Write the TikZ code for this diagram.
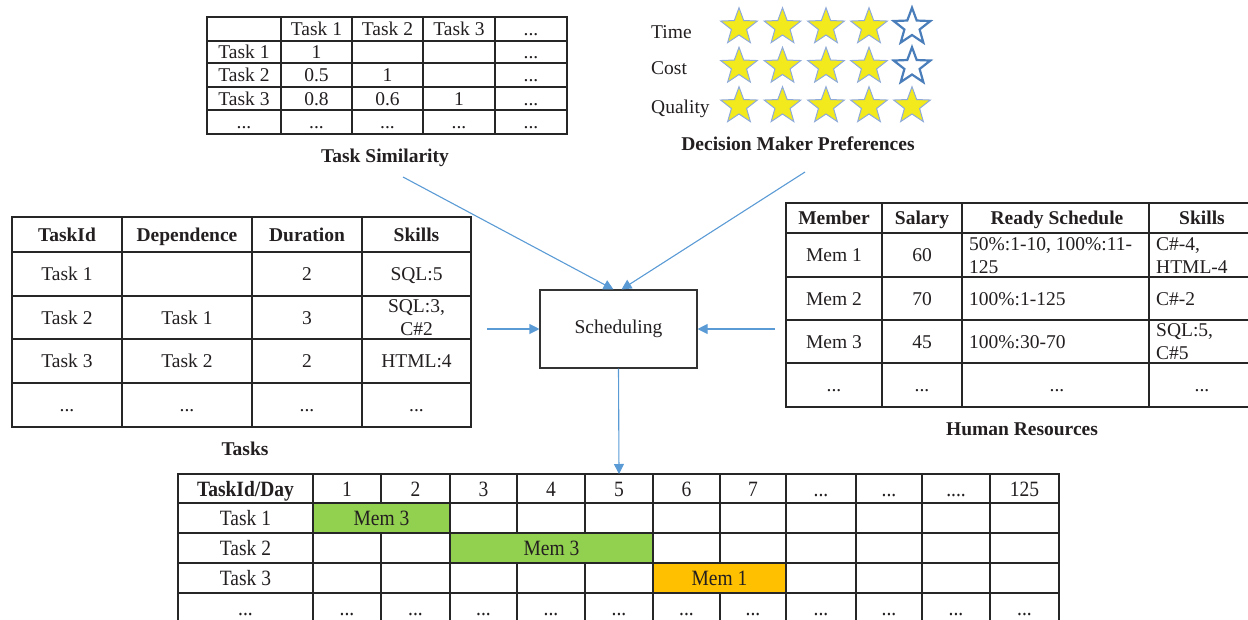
\documentclass[tikz,border=0pt]{standalone}
\usepackage{graphicx}
\usepackage{fontspec}
\setmainfont{Liberation Serif}
\usetikzlibrary{arrows.meta}
\definecolor{txt}{HTML}{231F20}
\definecolor{arr}{HTML}{5B9BD5}
\definecolor{grn}{HTML}{92D050}
\definecolor{org}{HTML}{FFC000}
\definecolor{staryel}{HTML}{F2EA1C}
\definecolor{staredge}{HTML}{8EAADB}
\definecolor{starblue}{HTML}{4A7EBB}
\newcommand\tl[1]{\scalebox{1}[1.12]{#1}}
\begin{document}
\begin{tikzpicture}[x=1pt,y=-1pt,
  font=\fontsize{19.5}{22}\selectfont, text=txt,
  grid/.style={draw=black!85, line width=1.1pt, line cap=rect},
  cell/.style={anchor=base, inner sep=0pt},
  mcell/.style={anchor=center, inner sep=0pt, font=\fontsize{19.5}{23}\selectfont},
  hcell/.style={anchor=base, inner sep=0pt, font=\fontsize{19.5}{22}\selectfont\bfseries},
  bcap/.style={anchor=base, inner sep=0pt, font=\fontsize{19.5}{22}\selectfont\bfseries},
  flow/.style={draw=arr, line width=1.1pt, -{Triangle[length=10pt,width=10pt]}},
  mystar/.pic={\path[pic actions, line join=miter] (270:19.3) -- (306:8) -- (342:19.3) -- (18:8) -- (54:19.3) -- (90:8) -- (126:19.3) -- (162:8) -- (198:19.3) -- (234:8) -- cycle;},
  starfull/.style={fill=staryel, draw=staredge, line width=1pt},
  starempty/.style={fill=white, draw=starblue, line width=2.2pt},
  schedbox/.style={draw=black!80, line width=1.1pt, minimum width=157pt, minimum height=78pt, inner sep=0pt}
]
\useasboundingbox (0,0) rectangle (1248,619);
\clip (0,0) rectangle (1248,619);

% ---------------- Task Similarity table ----------------
\foreach \y in {17,41,63,87,110,134} \draw[grid] (207,\y) -- (567,\y);
\foreach \x in {207,281,352,423,495,567} \draw[grid] (\x,17) -- (\x,134);
\node[cell] (sh1) at (316.5,35.5) {Task 1};
\node[cell] (sh2) at (387.5,35.5) {Task 2};
\node[cell] (sh3) at (459,35.5) {Task 3};
\node[cell] (sh4) at (531,35.5) {...};
\node[cell] (sr1) at (244,58.5) {Task 1};
\node[cell] (s11) at (316.5,58.5) {1};
\node[cell] (s14) at (531,58.5) {...};
\node[cell] (sr2) at (244,81.5) {Task 2};
\node[cell] (s21) at (316.5,81.5) {0.5};
\node[cell] (s22) at (387.5,81.5) {1};
\node[cell] (s24) at (531,81.5) {...};
\node[cell] (sr3) at (244,105) {Task 3};
\node[cell] (s31) at (316.5,105) {0.8};
\node[cell] (s32) at (387.5,105) {0.6};
\node[cell] (s33) at (459,105) {1};
\node[cell] (s34) at (531,105) {...};
\node[cell] (sr4) at (244,128.5) {...};
\node[cell] (s41) at (316.5,128.5) {...};
\node[cell] (s42) at (387.5,128.5) {...};
\node[cell] (s43) at (459,128.5) {...};
\node[cell] (s44) at (531,128.5) {...};
\node[bcap] (simcap) at (385,162) {Task Similarity};

% ---------------- Decision maker preferences ----------------
\node[cell, anchor=base west] (ltime) at (651,38) {Time};
\node[cell, anchor=base west] (lcost) at (651,74) {Cost};
\node[cell, anchor=base west] (lqual) at (651,113) {Quality};
\foreach \r/\yy/\n in {t/27/4, c/66.5/4, q/106/5}{
  \foreach \xx [count=\k] in {739,782.5,826,869,912}{
    \ifnum\k>\n\relax
      \pic[starempty] (\r\k) at (\xx,\yy) {mystar};
    \else
      \pic[starfull] (\r\k) at (\xx,\yy) {mystar};
    \fi
  }
}
\node[bcap] (dmpcap) at (798,150) {Decision Maker Preferences};

% ---------------- Tasks table ----------------
\foreach \y in {217,252,296,339,383,427} \draw[grid] (12,\y) -- (471,\y);
\foreach \x in {12,122,252,362,471} \draw[grid] (\x,217) -- (\x,427);
\node[hcell] (th1) at (67,241) {TaskId};
\node[hcell] (th2) at (187,241) {Dependence};
\node[hcell] (th3) at (307,241) {Duration};
\node[hcell] (th4) at (416.5,241) {Skills};
\node[cell] (t1a) at (67,280.5) {Task 1};
\node[cell] (t1c) at (307,280.5) {2};
\node[cell] (t1d) at (416.5,280.5) {SQL:5};
\node[cell] (t2a) at (67,324) {Task 2};
\node[cell] (t2b) at (187,324) {Task 1};
\node[cell] (t2c) at (307,324) {3};
\node[mcell, align=center] (t2d) at (416.5,317.5) {SQL:3,\\C\#2};
\node[cell] (t3a) at (67,367.5) {Task 3};
\node[cell] (t3b) at (187,367.5) {Task 2};
\node[cell] (t3c) at (307,367.5) {2};
\node[cell] (t3d) at (416.5,367.5) {HTML:4};
\node[cell] (t4a) at (67,411.5) {...};
\node[cell] (t4b) at (187,411.5) {...};
\node[cell] (t4c) at (307,411.5) {...};
\node[cell] (t4d) at (416.5,411.5) {...};
\node[bcap] (taskcap) at (245,455) {Tasks};

% ---------------- Human Resources table ----------------
\foreach \y in {203,233,277,320,363,407} \draw[grid] (786,\y) -- (1260,\y);
\foreach \x in {786,882,962,1149} \draw[grid] (\x,203) -- (\x,407);
\node[hcell] (hh1) at (834,224.5) {Member};
\node[hcell] (hh2) at (922,224.5) {Salary};
\node[hcell] (hh3) at (1057,224.5) {Ready Schedule};
\node[hcell] (hh4) at (1202,224.5) {Skills};
\node[cell] (h1a) at (834,261.5) {Mem 1};
\node[cell] (h1b) at (922,261.5) {60};
\node[mcell, anchor=west, align=left] (h1c) at (969,255.5) {50\%:1-10, 100\%:11-\\125};
\node[mcell, anchor=west, align=left] (h1d) at (1156,255.5) {C\#-4,\\HTML-4};
\node[cell] (h2a) at (834,305) {Mem 2};
\node[cell] (h2b) at (922,305) {70};
\node[cell, anchor=base west] (h2c) at (969,305) {100\%:1-125};
\node[cell, anchor=base west] (h2d) at (1156,305) {C\#-2};
\node[cell] (h3a) at (834,348) {Mem 3};
\node[cell] (h3b) at (922,348) {45};
\node[cell, anchor=base west] (h3c) at (969,348) {100\%:30-70};
\node[mcell, anchor=west, align=left] (h3d) at (1156,341.5) {SQL:5,\\C\#5};
\node[cell] (h4a) at (834,391.5) {...};
\node[cell] (h4b) at (922,391.5) {...};
\node[cell] (h4c) at (1057,391.5) {...};
\node[cell] (h4d) at (1202,391.5) {...};
\node[bcap] (hrcap) at (1022,435) {Human Resources};

% ---------------- Scheduling ----------------
\node[schedbox] (sched) at (618.5,329) {Scheduling};

% ---------------- Gantt table ----------------
\fill[grn] (313,503) rectangle (450,533);
\fill[grn] (450,533) rectangle (653,563);
\fill[org] (653,563) rectangle (786,593);
\foreach \y in {474,503,533,563,593} \draw[grid] (178,\y) -- (1059,\y);
\foreach \x in {178,313,450,653,786,856,922,990,1059} \draw[grid] (\x,474) -- (\x,630);
\draw[grid] (381,474) -- (381,503) (381,533) -- (381,630);
\draw[grid] (517,474) -- (517,533) (517,563) -- (517,630);
\draw[grid] (585,474) -- (585,533) (585,563) -- (585,630);
\draw[grid] (720,474) -- (720,563) (720,593) -- (720,630);
\node[hcell] (gh0) at (245.5,496) {\tl{TaskId/Day}};
\node[cell] (gh1) at (347,496) {\tl{1}};
\node[cell] (gh2) at (415.5,496) {\tl{2}};
\node[cell] (gh3) at (483.5,496) {\tl{3}};
\node[cell] (gh4) at (551,496) {\tl{4}};
\node[cell] (gh5) at (619,496) {\tl{5}};
\node[cell] (gh6) at (686.5,496) {\tl{6}};
\node[cell] (gh7) at (753,496) {\tl{7}};
\node[cell] (gh8) at (821,496) {\tl{...}};
\node[cell] (gh9) at (889,496) {\tl{...}};
\node[cell] (gh10) at (956,496) {\tl{....}};
\node[cell] (gh11) at (1024.5,496) {\tl{125}};
\node[cell] (gr1) at (245.5,525) {\tl{Task 1}};
\node[cell] (gm1) at (381.5,525) {\tl{Mem 3}};
\node[cell] (gr2) at (245.5,555) {\tl{Task 2}};
\node[cell] (gm2) at (551.5,555) {\tl{Mem 3}};
\node[cell] (gr3) at (245.5,585) {\tl{Task 3}};
\node[cell] (gm3) at (719.5,585) {\tl{Mem 1}};
\node[cell] (gd0) at (245.5,615) {\tl{...}};
\node[cell] (gd1) at (347,615) {\tl{...}};
\node[cell] (gd2) at (415.5,615) {\tl{...}};
\node[cell] (gd3) at (483.5,615) {\tl{...}};
\node[cell] (gd4) at (551,615) {\tl{...}};
\node[cell] (gd5) at (619,615) {\tl{...}};
\node[cell] (gd6) at (686.5,615) {\tl{...}};
\node[cell] (gd7) at (753,615) {\tl{...}};
\node[cell] (gd8) at (821,615) {\tl{...}};
\node[cell] (gd9) at (889,615) {\tl{...}};
\node[cell] (gd10) at (956,615) {\tl{...}};
\node[cell] (gd11) at (1024.5,615) {\tl{...}};

% ---------------- Connectors ----------------
\coordinate (simout) at (403,177);
\coordinate (dmpout) at (805,172);
\coordinate (tasksout) at (487,329);
\coordinate (hrout) at (775,329);
\coordinate (gantttop) at (619,474);
\draw[flow] (simout) -- ([xshift=-5pt]sched.north);
\draw[flow] (dmpout) -- ([xshift=3pt]sched.north);
\draw[flow] (tasksout) -- (sched.west);
\draw[flow] (hrout) -- (sched.east);
\draw[flow] (sched.south) -- (gantttop);
\end{tikzpicture}
\end{document}
